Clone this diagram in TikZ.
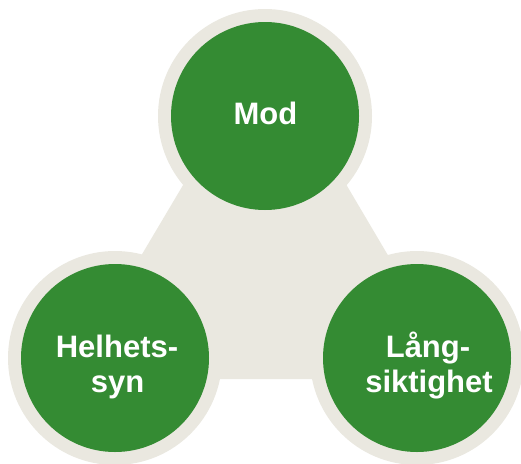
\documentclass[tikz,border=0pt]{standalone}
\usepackage{fontspec}
\setmainfont{Liberation Sans}
\definecolor{leaf}{HTML}{348B33}
\definecolor{sand}{HTML}{EAE8E0}
\begin{document}
\begin{tikzpicture}[x=1pt,y=-1pt,
  ring/.style={circle, fill=sand, minimum size=214pt, inner sep=0pt},
  disc/.style={circle, fill=leaf, minimum size=188pt, inner sep=0pt},
  lbl/.style={text=white, font=\bfseries\fontsize{31}{35}\selectfont, anchor=base, inner sep=0pt}]
\fill[white] (0,0) rectangle (521,463);
\useasboundingbox (0,0) rectangle (521,463);
\coordinate (ta) at (265,47);
\coordinate (tl) at (68,379);
\coordinate (tr) at (461,379);
\fill[sand] (ta) -- (tl) -- (tr) -- cycle;
\node[ring] (rtop) at (265,116) {};
\node[ring] (rleft) at (115,358) {};
\node[ring] (rright) at (417,358) {};
\node[disc] (dtop) at (265,116) {};
\node[disc] (dleft) at (115,358) {};
\node[disc] (dright) at (417,358) {};
\node[lbl] (mod) at (265.5,124.5) {Mod};
\node[lbl] (hel1) at (117,357) {Helhets-};
\node[lbl] (hel2) at (117.5,392) {syn};
\node[lbl] (lang1) at (428,357) {Lång-};
\node[lbl] (lang2) at (429,392) {siktighet};
\end{tikzpicture}
\end{document}
